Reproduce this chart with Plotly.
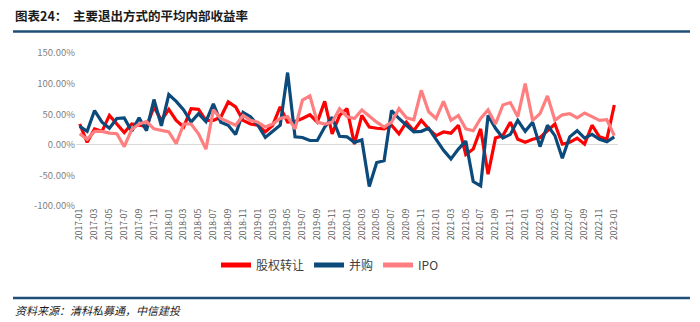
import plotly.graph_objects as go

months = [f"{y}-{m:02d}" for y in range(2017, 2023) for m in range(1, 13)] + ["2023-01"]

equity_transfer = [34, 4, 26, 22, 48, 34, 20, 34, 32, 30, 62, 40, 58, 40, 29, 59, 58, 40, 40, 45,
                   70, 62, 40, 34, 32, 21, 32, 62, 37, 38, 43, 49, 37, 71, 18, 48, 59, 1, 48, 29,
                   27, 26, 32, 18, 37, 23, 40, 26, 15, 21, 19, 32, -16, -7, 26, -48, 11, 15, 37, 9,
                   4, 9, 12, 23, 34, 1, 4, 11, 1, 32, 13, 9, 65]
mna = [30, 22, 56, 37, 27, 43, 44, 22, 44, 23, 74, 31, 82, 71, 57, 37, 51, 38, 67, 37,
       32, 17, 53, 46, 32, 12, 22, 32, 118, 13, 12, 7, 7, 29, 45, 14, 13, 4, 8, -68,
       -29, -26, 56, 43, 32, 21, 22, 27, 9, -9, -23, -7, 6, -60, -67, 48, 27, 11, 17, 40,
       22, 37, -3, 32, 15, -22, 13, 23, 11, 17, 9, 5, 13]
ipo = [18, 9, 22, 22, 19, 18, -3, 25, 34, 38, 26, 23, 21, 2, 34, 34, 18, -7, 57, 43,
       37, 32, 48, 40, 37, 29, 34, 43, 46, 26, 73, 80, 37, 34, 37, 59, 46, 43, 57, 47,
       37, 29, 37, 59, 44, 41, 89, 54, 43, 71, 40, 48, 26, 23, 43, 57, 34, 65, 69, 46,
       100, 40, 51, 80, 40, 49, 51, 44, 52, 46, 40, 41, 15]

series_names = ["股权转让", "并购", "IPO"]
series_colors = ["#FF0000", "#0B4A7B", "#FF7F80"]
y_ticks = [150, 100, 50, 0, -50, -100]

PH = 153.0  # plot height in px
PW = 542.0  # plot width in px

x = list(range(len(months)))
fig = go.Figure()
for name, vals, col in zip(series_names, [equity_transfer, mna, ipo], series_colors):
    fig.add_trace(go.Scatter(x=x, y=vals, mode="lines", name=name,
                             line=dict(color=col, width=3.2)))

fig.update_layout(
    width=700, height=322,
    margin=dict(l=76, r=82, t=53, b=116, autoexpand=False),
    paper_bgcolor="white", plot_bgcolor="white",
    font=dict(family="Noto Sans CJK SC, DejaVu Sans", color="#595959"),
    showlegend=True,
    legend=dict(orientation="h", x=(330 - 76) / PW, xanchor="center",
                y=-(265 - 206) / PH, yanchor="middle",
                font=dict(size=12, color="#404040"), tracegroupgap=0,
                itemsizing="constant", bgcolor="rgba(0,0,0,0)"),
    xaxis=dict(range=[-0.5, 72.5], tickvals=x[::2], ticktext=months[::2], tickangle=-90,
               tickfont=dict(size=8.5, color="#595959"), showgrid=False, zeroline=False,
               showline=False, ticks="", automargin=False),
    yaxis=dict(range=[-100, 150], tickvals=y_ticks,
               ticktext=[f"{v:.2f}%" for v in y_ticks],
               tickfont=dict(size=9.5, color="#7f7f7f"), showgrid=False,
               zeroline=True, zerolinecolor="#d9d9d9", zerolinewidth=1.2, showline=False,
               ticks="", automargin=False),
)

# title and rules
fig.add_annotation(xref="paper", yref="paper", x=-63 / PW, y=1 + (53 - 16) / PH,
                   xanchor="left", yanchor="middle", showarrow=False,
                   text="<b>图表24：  主要退出方式的平均内部收益率</b>",
                   font=dict(size=12.5, color="#1a1a1a", family="Noto Sans CJK SC"))
fig.add_shape(type="line", xref="paper", yref="paper",
              x0=-63 / PW, x1=1 + 72 / PW, y0=1 + (53 - 31.5) / PH, y1=1 + (53 - 31.5) / PH,
              line=dict(color="#1F4E79", width=2.5))
fig.add_shape(type="line", xref="paper", yref="paper",
              x0=-63 / PW, x1=1 + 72 / PW, y0=-(298 - 206) / PH, y1=-(298 - 206) / PH,
              line=dict(color="#1F4E79", width=2.5))
fig.add_annotation(xref="paper", yref="paper", x=-63 / PW, y=-(310 - 206) / PH,
                   xanchor="left", yanchor="middle", showarrow=False,
                   text="<i>资料来源：清科私募通，中信建投</i>",
                   font=dict(size=11, color="#1a1a1a", family="Noto Sans CJK SC"))

fig.write_html("out.html")
